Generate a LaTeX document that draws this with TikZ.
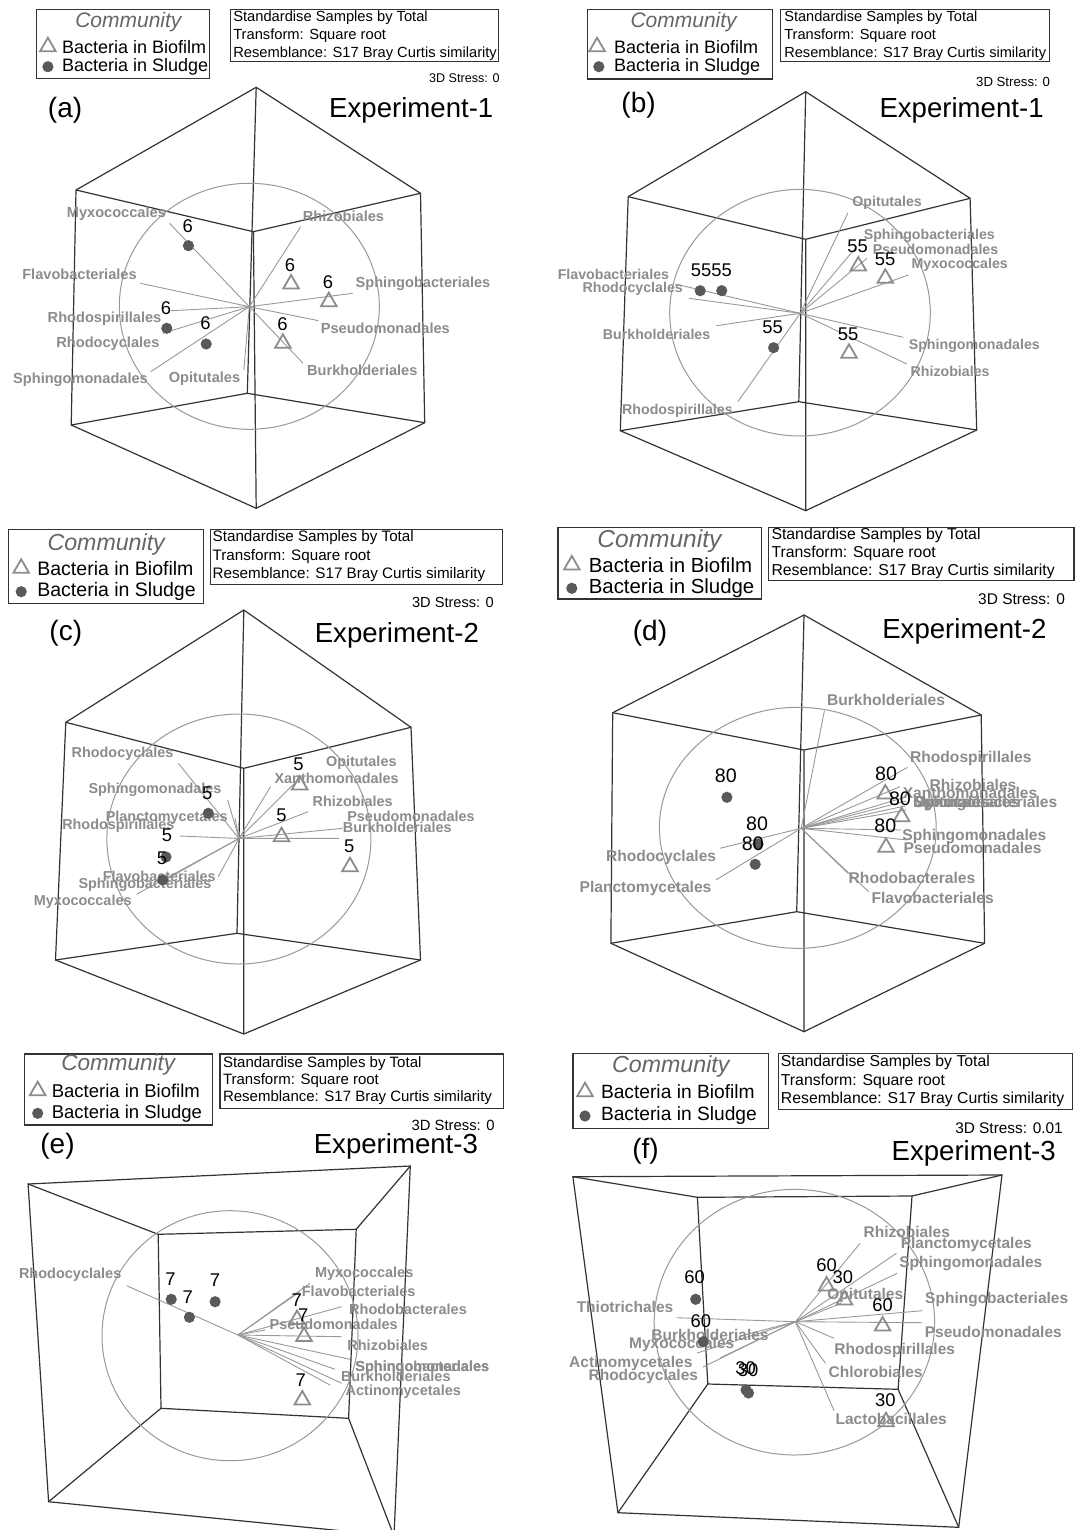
\documentclass[tikz,border=0pt]{standalone}
\usepackage{fontspec}
\setmainfont{Liberation Sans}
\usetikzlibrary{shapes.geometric}

\newcommand{\fsz}[1]{\fontsize{#1}{#1}\selectfont}

\tikzset{
  frame/.style={draw=black!80, line width=0.6pt},
  ring/.style={draw=black!40, line width=0.5pt},
  vec/.style={draw=black!40, line width=0.45pt},
  lab/.style={text=black!45, font=\bfseries\fsz{#1}, inner sep=0pt},
  lab/.default=7.3,
  num/.style={font=\fsz{#1}, inner sep=0pt},
  num/.default=9.2,
  sludge/.style={circle, fill=black!65, minimum size=5.6pt, inner sep=0pt},
  biofilm/.style={regular polygon, regular polygon sides=3, draw=black!45,
    line width=0.9pt, minimum size=9pt, inner sep=0pt},
  legttl/.style={text=black!60, inner sep=0pt, font=\itshape\fsz{#1}},
  legtxt/.style={anchor=west, inner sep=0pt, font=\fsz{#1}},
  info/.style={anchor=west, inner sep=0pt, font=\fsz{#1}},
  stress/.style={anchor=east, inner sep=0pt, font=\fsz{#1}},
  tag/.style={inner sep=0pt, font=\fsz{14}},
  title/.style={anchor=west, inner sep=0pt, font=\fsz{13.8}},
}

\begin{document}
\begin{tikzpicture}[x=0.5pt, y=-0.5pt]
	
	\useasboundingbox (0,0) rectangle (1086,1530);
	\fill[white] (0,0) rectangle (1086,1530);
	\clip (0,0) rectangle (1086,1530);
	
	% ================= (a) =================
	\draw[frame] (36.6,9.3) rectangle (209.6,78.3);
	\node[legttl=10.5] (a-comm) at (128.4,21.7) {Community};
	\node[biofilm] (a-lt) at (47.9,46.7) {};
	\node[legtxt=9] (a-lb) at (61.6,46.7) {Bacteria in Biofilm};
	\node[sludge] (a-ld) at (47.9,66.7) {};
	\node[legtxt=9] (a-ls) at (61.6,66.7) {Bacteria in Sludge};
	\draw[frame] (230.1,9.3) rectangle (498.3,61.7);
	\node[info=7.35] (a-i1) at (232.9,17.8) {Standardise Samples by Total};
	\node[info=7.35] (a-i2) at (232.9,35.5) {Transform: Square root};
	\node[info=7.35] (a-i3) at (232.9,53.3) {Resemblance: S17 Bray Curtis similarity};
	\node[stress=6.3] (a-st) at (500,78.3) {3D Stress: 0};
	\node[tag] (a-tag) at (65.1,110) {(a)};
	\node[title] (a-ttl) at (328.8,110) {Experiment-1};
	
	% cube
	\coordinate (a-top) at (256.2,87.3);
	\coordinate (a-ul) at (76,190);
	\coordinate (a-ur) at (420.5,193.3);
	\coordinate (a-ll) at (71.2,425);
	\coordinate (a-lr) at (424.7,422.7);
	\coordinate (a-bot) at (256.2,508.3);
	\coordinate (a-p) at (253.4,231.7);
	\coordinate (a-q) at (247.3,393.3);
	\draw[frame] (a-top) -- (a-ur) -- (a-lr) -- (a-bot) -- (a-ll) -- (a-ul) -- cycle;
	\draw[frame] (a-ul) -- (a-p) -- (a-ur) (a-p) -- (a-bot);
	\draw[frame] (a-ll) -- (a-q) -- (a-lr) (a-q) -- (a-top);
	\draw[ring] (249.3,306.3) ellipse [x radius=130, y radius=123];
	
	% vectors
	\coordinate (a-o) at (249.3,306.7);
	\coordinate (a-myxo-e) at (169.5,223.3);
	\coordinate (a-flav-e) at (140.4,283.3);
	\coordinate (a-rhsp-e) at (171.2,310.7);
	\coordinate (a-rhcy-e) at (162.7,333.3);
	\coordinate (a-sphm-e) at (150.7,371.7);
	\coordinate (a-opit-e) at (243.8,370);
	\coordinate (a-rhiz-e) at (300.7,226.7);
	\coordinate (a-sphb-e) at (352.7,293.3);
	\coordinate (a-pseu-e) at (318.5,320.7);
	\coordinate (a-burk-e) at (303.1,363.3);
	\foreach \v in {myxo,flav,rhsp,rhcy,sphm,opit,rhiz,sphb,pseu,burk}
	  \draw[vec] (a-o) -- (a-\v-e);
	\node[lab] (a-myxo) at (116.4,213.3) {Myxococcales};
	\node[lab] (a-flav) at (79.5,274.3) {Flavobacteriales};
	\node[lab] (a-rhsp) at (104.5,319) {Rhodospirillales};
	\node[lab] (a-rhcy) at (107.9,343.3) {Rhodocyclales};
	\node[lab] (a-sphm) at (80.5,379.3) {Sphingomonadales};
	\node[lab] (a-opit) at (204.5,378.3) {Opitutales};
	\node[lab] (a-rhiz) at (343.5,216.7) {Rhizobiales};
	\node[lab] (a-sphb) at (423,284) {Sphingobacteriales};
	\node[lab] (a-pseu) at (385.3,328.3) {Pseudomonadales};
	\node[lab] (a-burk) at (362.3,370) {Burkholderiales};
	
	% samples
	\node[sludge] (a-s1) at (188.4,245.7) {};
	\node[sludge] (a-s2) at (166.8,328.3) {};
	\node[sludge] (a-s3) at (206.2,344) {};
	\node[biofilm] (a-b1) at (291.1,284) {};
	\node[biofilm] (a-b2) at (328.8,301.7) {};
	\node[biofilm] (a-b3) at (282.9,343.3) {};
	\node[num] (a-n1) at (187.7,225.7) {6};
	\node[num] (a-n2) at (166.1,308.3) {6};
	\node[num] (a-n3) at (205.5,323.3) {6};
	\node[num] (a-n4) at (290.1,265) {6};
	\node[num] (a-n5) at (328.1,281.7) {6};
	\node[num] (a-n6) at (282.5,324) {6};
	
	% ================= (b) =================
	\draw[frame] (587.4,9.3) rectangle (772.5,79);
	\node[legttl=10.5] (b-comm) at (683.6,21.7) {Community};
	\node[biofilm] (b-lt) at (597.1,46.7) {};
	\node[legtxt=9] (b-lb) at (613.7,46.7) {Bacteria in Biofilm};
	\node[sludge] (b-ld) at (598.8,66.7) {};
	\node[legtxt=9] (b-ls) at (613.7,66.7) {Bacteria in Sludge};
	\draw[frame] (780.5,9.3) rectangle (1049.3,61.7);
	\node[info=7.3] (b-i1) at (783.9,17.8) {Standardise Samples by Total};
	\node[info=7.3] (b-i2) at (783.9,35.5) {Transform: Square root};
	\node[info=7.3] (b-i3) at (783.9,53.3) {Resemblance: S17 Bray Curtis similarity};
	\node[stress=6.6] (b-st) at (1050.4,81.7) {3D Stress: 0};
	\node[tag] (b-tag) at (638.6,105) {(b)};
	\node[title] (b-ttl) at (879.1,110) {Experiment-1};
	
	% cube
	\coordinate (b-top) at (805.7,91.7);
	\coordinate (b-ul) at (628.2,196.7);
	\coordinate (b-ur) at (970.1,198.3);
	\coordinate (b-ll) at (620.3,430.7);
	\coordinate (b-lr) at (976.7,430);
	\coordinate (b-bot) at (805.7,510.7);
	\coordinate (b-p) at (805.7,239.3);
	\coordinate (b-q) at (798.8,401.7);
	\draw[frame] (b-top) -- (b-ur) -- (b-lr) -- (b-bot) -- (b-ll) -- (b-ul) -- cycle;
	\draw[frame] (b-ul) -- (b-p) -- (b-ur) (b-p) -- (b-bot);
	\draw[frame] (b-ll) -- (b-q) -- (b-lr) (b-q) -- (b-top);
	\draw[ring] (800,312.7) ellipse [x radius=130.3, y radius=123.3];
	
	% vectors
	\coordinate (b-o) at (800.2,313.3);
	\coordinate (b-opit-e) at (848,212.7);
	\coordinate (b-sphb-e) at (856.6,246.7);
	\coordinate (b-pseu-e) at (867,258.3);
	\coordinate (b-myxo-e) at (908.5,275);
	\coordinate (b-sphm-e) at (903.3,337.3);
	\coordinate (b-rhiz-e) at (906.8,364);
	\coordinate (b-flav-e) at (675,284);
	\coordinate (b-rhcy-e) at (688.8,298.3);
	\coordinate (b-burk-e) at (716.5,325.7);
	\coordinate (b-rhsp-e) at (737.9,401.7);
	\foreach \v in {opit,sphb,pseu,myxo,sphm,rhiz,flav,rhcy,burk,rhsp}
	  \draw[vec] (b-o) -- (b-\v-e);
	\node[lab=7.1] (b-opit) at (887.1,202.7) {Opitutales};
	\node[lab=7.1] (b-sphb) at (929.3,235.7) {Sphingobacteriales};
	\node[lab=7.1] (b-pseu) at (935.5,249) {Pseudomonadales};
	\node[lab=7.1] (b-myxo) at (959.7,265) {Myxococcales};
	\node[lab=7.1] (b-sphm) at (974.3,345.7) {Sphingomonadales};
	\node[lab=7.1] (b-rhiz) at (950.1,371.7) {Rhizobiales};
	\node[lab=7.1] (b-flav) at (613.4,274.3) {Flavobacteriales};
	\node[lab=7.1] (b-rhcy) at (632.7,289) {Rhodocyclales};
	\node[lab=7.1] (b-burk) at (656.6,334) {Burkholderiales};
	\node[lab=7.1] (b-rhsp) at (677.4,411) {Rhodospirillales};
	
	% samples
	\node[sludge] (b-s1) at (700.2,290.7) {};
	\node[sludge] (b-s2) at (721.7,290.7) {};
	\node[sludge] (b-s3) at (773.6,347.7) {};
	\node[biofilm] (b-b1) at (858.3,266) {};
	\node[biofilm] (b-b2) at (885.3,278.3) {};
	\node[biofilm] (b-b3) at (849,353.3) {};
	\node[num] (b-n1) at (701.2,270.7) {55};
	\node[num] (b-n2) at (721.7,270.7) {55};
	\node[num] (b-n3) at (772.5,327.3) {55};
	\node[num] (b-n4) at (857.6,246) {55};
	\node[num] (b-n5) at (885,259) {55};
	\node[num] (b-n6) at (848,334) {55};
	
	% ================= (c) =================
	\draw[frame] (8.6,529.3) rectangle (203.1,603.3);
	\node[legttl=11.6] (c-comm) at (106.2,544) {Community};
	\node[biofilm] (c-lt) at (21.2,568.3) {};
	\node[legtxt=9.75] (c-lb) at (37,568.3) {Bacteria in Biofilm};
	\node[sludge] (c-ld) at (21.2,591.7) {};
	\node[legtxt=9.75] (c-ls) at (37,591.7) {Bacteria in Sludge};
	\draw[frame] (210.3,529.3) rectangle (502.7,584.3);
	\node[info=7.6] (c-i1) at (212.3,537.8) {Standardise Samples by Total};
	\node[info=7.6] (c-i2) at (212.3,556.3) {Transform: Square root};
	\node[info=7.6] (c-i3) at (212.3,574.3) {Resemblance: S17 Bray Curtis similarity};
	\node[stress=7.3] (c-st) at (494.2,602.3) {3D Stress: 0};
	\node[tag] (c-tag) at (65.8,633.3) {(c)};
	\node[title] (c-ttl) at (314.4,635) {Experiment-2};
	
	% cube
	\coordinate (c-top) at (243.8,610);
	\coordinate (c-ul) at (65.8,722.3);
	\coordinate (c-ur) at (411,727.3);
	\coordinate (c-ll) at (55.5,960);
	\coordinate (c-lr) at (420.5,960);
	\coordinate (c-bot) at (243.8,1034);
	\coordinate (c-p) at (243.8,768.3);
	\coordinate (c-q) at (237,933.3);
	\draw[frame] (c-top) -- (c-ur) -- (c-lr) -- (c-bot) -- (c-ll) -- (c-ul) -- cycle;
	\draw[frame] (c-ul) -- (c-p) -- (c-ur) (c-p) -- (c-bot);
	\draw[frame] (c-ll) -- (c-q) -- (c-lr) (c-q) -- (c-top);
	\draw[ring] (238.9,839) ellipse [x radius=132, y radius=125];
	
	% vectors
	\coordinate (c-o) at (239,838.5);
	\coordinate (c-rhcy-e) at (178.3,763.3);
	\coordinate (c-sphm-e) at (227.7,800);
	\coordinate (c-plan-e) at (235,818.3);
	\coordinate (c-rhsp-e) at (180,836);
	\coordinate (c-flav-e) at (218.3,876.7);
	\coordinate (c-sphb-e) at (165,880);
	\coordinate (c-myxo-e) at (137,894);
	\coordinate (c-xant-e) at (270.5,786.7);
	\coordinate (c-opit-e) at (296.2,781.7);
	\coordinate (c-rhiz-e) at (308.2,811.7);
	\coordinate (c-pseu-e) at (342.5,828.3);
	\coordinate (c-burk-e) at (339,838.3);
	\foreach \v in {rhcy,sphm,plan,rhsp,flav,sphb,myxo,xant,opit,rhiz,pseu,burk}
	  \draw[vec] (c-o) -- (c-\v-e);
	\node[lab=7.2] (c-rhcy) at (122.5,753.3) {Rhodocyclales};
	\node[lab=7.2] (c-sphm) at (155,790) {Sphingomonadales};
	\node[lab=7.2] (c-plan) at (166.7,817.7) {Planctomycetales};
	\node[lab=7.2] (c-rhsp) at (118.3,826) {Rhodospirillales};
	\node[lab=7.2] (c-flav) at (159.3,876.7) {Flavobacteriales};
	\node[lab=7.2] (c-sphb) at (145,885) {Sphingobacteriales};
	\node[lab=7.2] (c-myxo) at (82.7,901.7) {Myxococcales};
	\node[lab=7.2] (c-xant) at (336.6,778.3) {Xanthomonadales};
	\node[lab=7.2] (c-opit) at (361.3,762.7) {Opitutales};
	\node[lab=7.2] (c-rhiz) at (352.7,801.7) {Rhizobiales};
	\node[lab=7.2] (c-pseu) at (411,816.7) {Pseudomonadales};
	\node[lab=7.2] (c-burk) at (397.3,827.7) {Burkholderiales};
	
	% samples
	\node[sludge] (c-s1) at (208.3,813.3) {};
	\node[sludge] (c-s2) at (166,857) {};
	\node[sludge] (c-s3) at (162.7,880) {};
	\node[biofilm] (c-b1) at (299.7,785) {};
	\node[biofilm] (c-b2) at (281.5,836.7) {};
	\node[biofilm] (c-b3) at (350,866.7) {};
	\node[num] (c-n1) at (207.3,793.3) {5};
	\node[num] (c-n2) at (167.1,835) {5};
	\node[num] (c-n3) at (162,858) {5};
	\node[num] (c-n4) at (298.6,764) {5};
	\node[num] (c-n5) at (281.5,815.7) {5};
	\node[num] (c-n6) at (349.3,846) {5};
	
	% ================= (d) =================
	\draw[frame] (558,527.3) rectangle (761.5,599);
	\node[legttl=12.25] (d-comm) at (659.4,540.7) {Community};
	\node[biofilm] (d-lt) at (571.8,565) {};
	\node[legtxt=10.2] (d-lb) at (588.4,565) {Bacteria in Biofilm};
	\node[sludge] (d-ld) at (571.8,588.3) {};
	\node[legtxt=10.2] (d-ls) at (588.4,588.3) {Bacteria in Sludge};
	\draw[frame] (768.4,527.3) rectangle (1073.9,580.7);
	\node[info=7.9] (d-i1) at (771.1,535.5) {Standardise Samples by Total};
	\node[info=7.9] (d-i2) at (771.1,553.6) {Transform: Square root};
	\node[info=7.9] (d-i3) at (771.1,571.7) {Resemblance: S17 Bray Curtis similarity};
	\node[stress=7.75] (d-st) at (1065.3,599) {3D Stress: 0};
	\node[tag] (d-tag) at (650,633.3) {(d)};
	\node[title] (d-ttl) at (881.9,631.7) {Experiment-2};
	
	% cube
	\coordinate (d-top) at (804,615);
	\coordinate (d-ul) at (612.7,712.7);
	\coordinate (d-ur) at (981.2,715);
	\coordinate (d-ll) at (610.9,943.3);
	\coordinate (d-lr) at (984.6,943.3);
	\coordinate (d-bot) at (804,1031.7);
	\coordinate (d-p) at (804,750);
	\coordinate (d-q) at (796.7,911.7);
	\draw[frame] (d-top) -- (d-ur) -- (d-lr) -- (d-bot) -- (d-ll) -- (d-ul) -- cycle;
	\draw[frame] (d-ul) -- (d-p) -- (d-ur) (d-p) -- (d-bot);
	\draw[frame] (d-ll) -- (d-q) -- (d-lr) (d-q) -- (d-top);
	\draw[ring] (797.8,827.8) ellipse [x radius=138.4, y radius=120.5];
	
	% vectors
	\coordinate (d-o) at (801.2,828.3);
	\coordinate (d-burk-e) at (824.4,710.7);
	\coordinate (d-rhsp-e) at (907.5,767.3);
	\coordinate (d-rhiz-e) at (899.9,786.7);
	\coordinate (d-xant-e) at (906.8,796.7);
	\coordinate (d-sphb-e) at (906,801);
	\coordinate (d-opit-e) at (905,806);
	\coordinate (d-myxo-e) at (906,810);
	\coordinate (d-pseu-e) at (901.6,830);
	\coordinate (d-sphm-e) at (906.8,840);
	\coordinate (d-rhdb-e) at (848,873.3);
	\coordinate (d-flav-e) at (868.7,891.7);
	\coordinate (d-rhcy-e) at (719.9,848.3);
	\coordinate (d-plan-e) at (715.8,880);
	\foreach \v in {burk,rhsp,rhiz,xant,sphb,opit,myxo,pseu,sphm,rhdb,flav,rhcy,plan}
	  \draw[vec] (d-o) -- (d-\v-e);
	\node[lab=7.8] (d-burk) at (886,700) {Burkholderiales};
	\node[lab=7.8] (d-rhsp) at (970.8,758.3) {Rhodospirillales};
	\node[lab=7.8] (d-rhiz) at (973,785) {Rhizobiales};
	\node[lab=7.8] (d-xant) at (970,792.7) {Xanthomonadales};
	\node[lab=7.8, anchor=west] (d-sphb) at (913,803.3) {Sphingobacteriales};
	\node[lab=7.8, anchor=west] (d-opit) at (913,803.3) {Opitutales};
	\node[lab=7.8, anchor=west] (d-myxo) at (913,803.3) {Myxococcales};
	\node[lab=7.8] (d-sphm) at (974.3,836.7) {Sphingomonadales};
	\node[lab=7.8] (d-pseu) at (972.6,848.3) {Pseudomonadales};
	\node[lab=7.8] (d-rhdb) at (912,877.7) {Rhodobacterales};
	\node[lab=7.8] (d-flav) at (932.7,898.3) {Flavobacteriales};
	\node[lab=7.8] (d-rhcy) at (661.1,857.3) {Rhodocyclales};
	\node[lab=7.8] (d-plan) at (645.5,888.3) {Planctomycetales};
	
	% samples
	\node[sludge] (d-s1) at (726.9,797.3) {};
	\node[sludge] (d-s2) at (758,844) {};
	\node[sludge] (d-s3) at (755.2,864.3) {};
	\node[biofilm] (d-b1) at (885.3,794) {};
	\node[biofilm] (d-b2) at (901.6,816.7) {};
	\node[biofilm] (d-b3) at (886,847.3) {};
	\node[num=9.8] (d-n1) at (725.8,776) {80};
	\node[num=9.8] (d-n2) at (757,823.3) {80};
	\node[num=9.8] (d-n3) at (752.8,843.3) {80};
	\node[num=9.8] (d-n4) at (886,773.3) {80};
	\node[num=9.8] (d-n5) at (899.9,798.3) {80};
	\node[num=9.8] (d-n6) at (885.3,826) {80};
	
	% ================= (e) =================
	\draw[frame] (24.7,1054) rectangle (212.3,1125);
	\node[legttl=11.25] (e-comm) at (118.2,1065) {Community};
	\node[biofilm] (e-lt) at (37.7,1090.7) {};
	\node[legtxt=9.25] (e-lb) at (51.4,1090.7) {Bacteria in Biofilm};
	\node[sludge] (e-ld) at (37.7,1113.3) {};
	\node[legtxt=9.25] (e-ls) at (51.4,1113.3) {Bacteria in Sludge};
	\draw[frame] (219.9,1054) rectangle (503.4,1108.3);
	\node[info=7.5] (e-i1) at (222.6,1063.2) {Standardise Samples by Total};
	\node[info=7.5] (e-i2) at (222.6,1080.3) {Transform: Square root};
	\node[info=7.5] (e-i3) at (222.6,1097.3) {Resemblance: S17 Bray Curtis similarity};
	\node[stress=7.4] (e-st) at (494.9,1125.7) {3D Stress: 0};
	\node[tag] (e-tag) at (57.5,1146.7) {(e)};
	\node[title] (e-ttl) at (313.4,1146) {Experiment-3};
	
	% box
	\coordinate (e-o1) at (28.1,1184);
	\coordinate (e-o2) at (410.3,1166);
	\coordinate (e-o3) at (394,1536);
	\coordinate (e-o4) at (48.6,1501.7);
	\coordinate (e-i1) at (158.2,1234.3);
	\coordinate (e-i2) at (356.2,1229.3);
	\coordinate (e-i3) at (348.6,1418.3);
	\coordinate (e-i4) at (161,1408.3);
	\draw[frame] (e-o1) -- (e-o2) -- (e-o3) -- (e-o4) -- cycle;
	\draw[frame] (e-i1) -- (e-i2) -- (e-i3) -- (e-i4) -- cycle;
	\draw[frame] (e-o1) -- (e-i1) (e-o2) -- (e-i2) (e-o3) -- (e-i3) (e-o4) -- (e-i4);
	\draw[ring] (230,1335.7) ellipse [x radius=128, y radius=125];
	
	% vectors
	\coordinate (e-o) at (238,1335);
	\coordinate (e-rhcy-e) at (126.7,1285.7);
	\coordinate (e-myxo-e) at (310,1283.3);
	\coordinate (e-flav-e) at (300,1291.7);
	\coordinate (e-rhdb-e) at (341.7,1306.7);
	\coordinate (e-pseu-e) at (265,1330);
	\coordinate (e-rhiz-e) at (341.7,1336.7);
	\coordinate (e-sphm-e) at (350,1359.3);
	\coordinate (e-sphb-e) at (335,1369.3);
	\coordinate (e-burk-e) at (341.7,1383.3);
	\coordinate (e-acti-e) at (330,1385);
	\foreach \v in {rhcy,myxo,flav,rhdb,pseu,rhiz,sphm,sphb,burk,acti}
	  \draw[vec] (e-o) -- (e-\v-e);
	\node[lab=7.25] (e-rhcy) at (70.2,1275) {Rhodocyclales};
	\node[lab=7.25] (e-myxo) at (364.2,1273.3) {Myxococcales};
	\node[lab=7.25] (e-flav) at (358.7,1291.7) {Flavobacteriales};
	\node[lab=7.25] (e-rhdb) at (408,1309.3) {Rhodobacterales};
	\node[lab=7.25] (e-pseu) at (333.7,1324) {Pseudomonadales};
	\node[lab=7.25] (e-rhiz) at (387.7,1345) {Rhizobiales};
	\node[lab=7.25, anchor=west] (e-sphm) at (355,1367.3) {Sphingomonadales};
	\node[lab=7.25, anchor=west] (e-sphb) at (355,1367.3) {Sphingobacteriales};
	\node[lab=7.25] (e-burk) at (395.8,1376.7) {Burkholderiales};
	\node[lab=7.25] (e-acti) at (403.3,1391.7) {Actinomycetales};
	
	% samples
	\node[sludge] (e-s1) at (171.2,1299.3) {};
	\node[sludge] (e-s2) at (189.4,1317.3) {};
	\node[sludge] (e-s3) at (215.1,1301.7) {};
	\node[biofilm] (e-b1) at (297,1319.5) {};
	\node[biofilm] (e-b2) at (304,1336.5) {};
	\node[biofilm] (e-b3) at (302.3,1400) {};
	\node[num] (e-n1) at (170.5,1279.3) {7};
	\node[num] (e-n2) at (187.7,1296.7) {7};
	\node[num] (e-n3) at (215.1,1280) {7};
	\node[num] (e-n4) at (296.7,1300) {7};
	\node[num] (e-n5) at (303.3,1315) {7};
	\node[num] (e-n6) at (300.7,1380) {7};
	
	% ================= (f) =================
	\draw[frame] (572.9,1053.3) rectangle (768.4,1128.3);
	\node[legttl=11.6] (f-comm) at (670.8,1066) {Community};
	\node[biofilm] (f-lt) at (585,1091.7) {};
	\node[legtxt=9.6] (f-lb) at (600.6,1091.7) {Bacteria in Biofilm};
	\node[sludge] (f-ld) at (585,1116) {};
	\node[legtxt=9.6] (f-ls) at (600.6,1116) {Bacteria in Sludge};
	\draw[frame] (778.1,1053.3) rectangle (1072.2,1109.3);
	\node[info=7.9] (f-i1) at (780.5,1062.8) {Standardise Samples by Total};
	\node[info=7.9] (f-i2) at (780.5,1081) {Transform: Square root};
	\node[info=7.9] (f-i3) at (780.5,1099.3) {Resemblance: S17 Bray Curtis similarity};
	\node[stress=7.7] (f-st) at (1063.2,1128.3) {3D Stress: 0.01};
	\node[tag] (f-tag) at (645.5,1151.7) {(f)};
	\node[title] (f-ttl) at (891.2,1153.3) {Experiment-3};
	
	% box
	\coordinate (f-o1) at (572.9,1176.7);
	\coordinate (f-o2) at (1002,1175);
	\coordinate (f-o3) at (958.7,1527.3);
	\coordinate (f-o4) at (617.9,1512.7);
	\coordinate (f-i1) at (697.4,1197.3);
	\coordinate (f-i2) at (912,1196);
	\coordinate (f-i3) at (898.1,1389.3);
	\coordinate (f-i4) at (707.8,1384);
	\draw[frame] (f-o1) -- (f-o2) -- (f-o3) -- (f-o4) -- cycle;
	\draw[frame] (f-i1) -- (f-i2) -- (f-i3) -- (f-i4) -- cycle;
	\draw[frame] (f-o1) -- (f-i1) (f-o2) -- (f-i2) (f-o3) -- (f-i3) (f-o4) -- (f-i4);
	\draw[ring] (794.4,1322.2) ellipse [x radius=140.2, y radius=132.8];
	
	% vectors
	\coordinate (f-o) at (795.4,1321.7);
	\coordinate (f-rhiz-e) at (860.1,1243.3);
	\coordinate (f-plan-e) at (896.4,1253.3);
	\coordinate (f-sphm-e) at (897.1,1273.3);
	\coordinate (f-opit-e) at (841,1303.3);
	\coordinate (f-sphb-e) at (922.4,1310.7);
	\coordinate (f-pseu-e) at (922.4,1322.7);
	\coordinate (f-rhsp-e) at (834.1,1338.3);
	\coordinate (f-chlo-e) at (825.5,1363.3);
	\coordinate (f-lact-e) at (834.1,1410.7);
	\coordinate (f-thio-e) at (676.7,1317.7);
	\coordinate (f-burk-e) at (740,1336);
	\coordinate (f-myxo-e) at (697,1353);
	\coordinate (f-acti-e) at (703,1367);
	\coordinate (f-rhcy-e) at (720,1358);
	\foreach \v in {rhiz,plan,sphm,opit,sphb,pseu,rhsp,chlo,lact,thio,burk,myxo,acti,rhcy}
	  \draw[vec] (f-o) -- (f-\v-e);
	\node[lab=7.75] (f-rhiz) at (906.8,1231.7) {Rhizobiales};
	\node[lab=7.75] (f-plan) at (966.3,1244) {Planctomycetales};
	\node[lab=7.75] (f-sphm) at (970.8,1264) {Sphingomonadales};
	\node[lab=7.75] (f-opit) at (865.3,1295) {Opitutales};
	\node[lab=7.75] (f-sphb) at (996.7,1299.3) {Sphingobacteriales};
	\node[lab=7.75] (f-pseu) at (993.3,1331.7) {Pseudomonadales};
	\node[lab=7.75] (f-rhsp) at (894.7,1350) {Rhodospirillales};
	\node[lab=7.75] (f-chlo) at (875.6,1371.7) {Chlorobiales};
	\node[lab=7.75] (f-lact) at (891.2,1419.3) {Lactobacillales};
	\node[lab=7.75] (f-thio) at (625,1307.3) {Thiotrichales};
	\node[lab=7.75] (f-burk) at (710,1335) {Burkholderiales};
	\node[lab=7.75] (f-myxo) at (681.7,1344) {Myxococcales};
	\node[lab=7.75] (f-acti) at (630.8,1363.3) {Actinomycetales};
	\node[lab=7.75] (f-rhcy) at (643.3,1376.7) {Rhodocyclales};
	
	% samples
	\node[sludge] (f-s1) at (695.7,1299.3) {};
	\node[sludge] (f-s2) at (703.3,1341.7) {};
	\node[sludge] (f-s3) at (746,1390) {};
	\node[sludge] (f-s4) at (748.5,1393) {};
	\node[biofilm] (f-b1) at (826.5,1286) {};
	\node[biofilm] (f-b2) at (844.5,1300) {};
	\node[biofilm] (f-b3) at (882.6,1326) {};
	\node[biofilm] (f-b4) at (886,1421.7) {};
	\node[num] (f-n1) at (694.7,1276.7) {60};
	\node[num] (f-n2) at (700.9,1320.7) {60};
	\node[num] (f-n3) at (745.5,1368.3) {30};
	\node[num] (f-n4) at (748,1370) {30};
	\node[num] (f-n5) at (826.5,1265) {60};
	\node[num] (f-n6) at (842.8,1277.3) {30};
	\node[num] (f-n7) at (882.6,1305) {60};
	\node[num] (f-n8) at (885.3,1400) {30};
	
\end{tikzpicture}
\end{document}
